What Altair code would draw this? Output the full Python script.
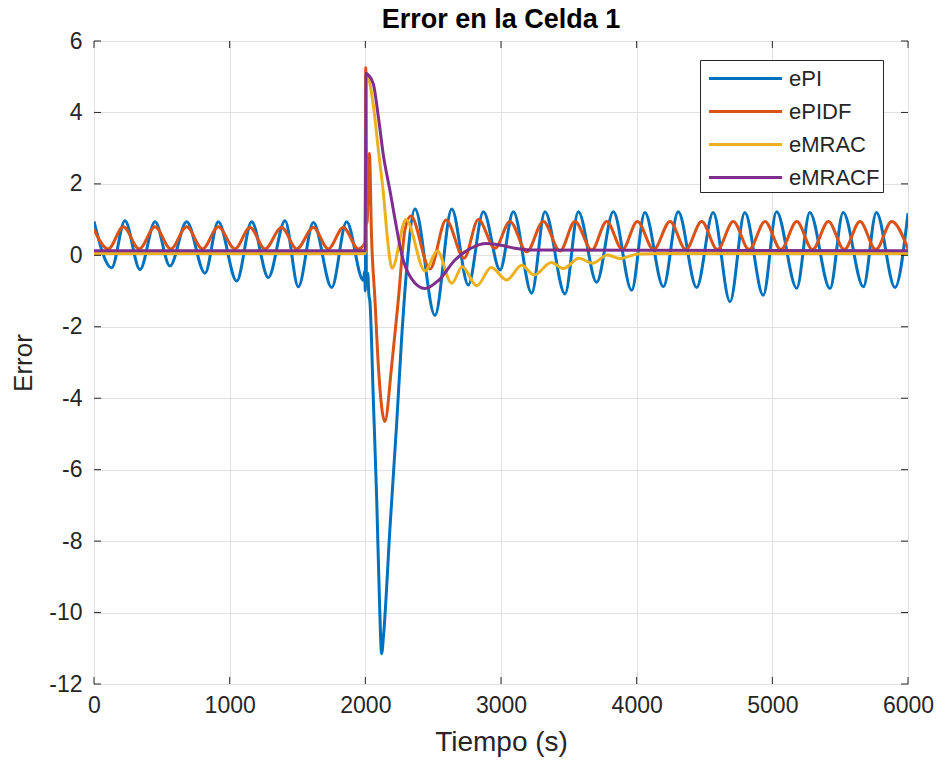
import altair as alt
import pandas as pd

# ---------------- data ----------------
series_names = ["ePI", "ePIDF", "eMRAC", "eMRACF"]
series_colors = ["#0072BD", "#D95319", "#EDB120", "#7E2F8E"]

t_pi = [0, 130, 228, 339, 450, 560, 683, 818, 916, 1052, 1162, 1285, 1408, 1506, 1617,
        1752, 1862, 1985, 1995, 2000, 2004, 2008, 2018, 2026, 2034, 2059, 2084, 2103,
        2120, 2135, 2182, 2231, 2268, 2300, 2366, 2513, 2637, 2759, 2870, 2993, 3091,
        3226, 3324, 3472, 3570, 3705, 3828, 3963, 4060, 4197, 4306, 4442, 4564, 4688,
        4797, 4933, 5031, 5180, 5276, 5425, 5522, 5671, 5767, 5904, 6000]
v_pi = [0.95, -0.35, 0.97, -0.4, 0.94, -0.3, 0.94, -0.5, 0.94, -0.72, 0.94, -0.62, 0.97,
        -0.88, 0.92, -0.9, 0.94, -0.7, -0.45, -1.0, 2.1, -0.7, -0.5, -1.1, -1.3, -4.05,
        -6.85, -9.5, -11.15, -10.6, -7.6, -4.7, -2.3, -0.6, 1.3, -1.68, 1.3, -0.83, 1.22,
        -0.41, 1.22, -1.06, 1.22, -1.08, 1.22, -0.75, 1.22, -0.98, 1.2, -0.88, 1.22, -0.9,
        1.2, -1.3, 1.2, -1.12, 1.22, -0.92, 1.2, -0.93, 1.2, -0.88, 1.2, -0.9, 1.18]

t_pidf = [0, 105, 216, 333, 450, 566, 683, 800, 916, 1039, 1150, 1260, 1383, 1494, 1617,
          1727, 1838, 1948, 1998, 2003, 2012, 2030, 2046, 2071, 2096, 2144, 2194, 2243,
          2292, 2335, 2477, 2595, 2728, 2833, 2956, 3066, 3190, 3312, 3435, 3545, 3669,
          3779, 3895, 4005, 4125, 4246, 4362, 4479, 4595, 4712, 4829, 4946, 5063, 5180,
          5296, 5413, 5530, 5646, 5763, 5880, 6000]
v_pidf = [0.72, 0.18, 0.8, 0.18, 0.8, 0.18, 0.8, 0.18, 0.8, 0.18, 0.78, 0.18, 0.78, 0.18,
          0.78, 0.18, 0.78, 0.18, 0.35, 5.25, 0.9, 2.85, 0.5, -1.25, -3.1, -4.65, -3.1,
          -1.25, 0.71, 1.1, -0.38, 0.99, -0.08, 1.0, 0.2, 0.95, 0.1, 0.95, 0.12, 0.95,
          0.15, 0.95, 0.16, 0.95, 0.16, 0.95, 0.16, 0.95, 0.16, 0.95, 0.16, 0.95, 0.16,
          0.95, 0.16, 0.95, 0.16, 0.95, 0.16, 0.95, 0.18]

t_mrac = [0, 1999, 2004, 2025, 2059, 2096, 2133, 2165, 2197, 2300, 2440, 2530, 2637, 2715,
          2821, 2928, 3042, 3153, 3245, 3370, 3460, 3575, 3675, 3785, 3880, 4010, 4150, 6000]
v_mrac = [0.05, 0.05, 5.1, 4.95, 4.2, 2.95, 1.74, 0.4, -0.36, 1.0, -0.44, 0.12, -0.78,
          -0.32, -0.85, -0.34, -0.69, -0.28, -0.55, -0.2, -0.37, -0.08, -0.22, 0.01, -0.09,
          0.04, 0.05, 0.05]

t_mracf = [0, 1999, 2005, 2022, 2059, 2096, 2133, 2182, 2231, 2270, 2340, 2440, 2540, 2661,
           2780, 2890, 3000, 3100, 3214, 6000]
v_mracf = [0.13, 0.13, 5.1, 5.05, 4.8, 3.88, 2.8, 1.8, 0.75, 0.0, -0.65, -0.93, -0.7,
           -0.13, 0.2, 0.33, 0.28, 0.2, 0.15, 0.13]

x_ticks = [0, 1000, 2000, 3000, 4000, 5000, 6000]
y_ticks = [-12, -10, -8, -6, -4, -2, 0, 2, 4, 6]

# ---------------- build table ----------------
rows = []
for name, ts, vs in zip(series_names, [t_pi, t_pidf, t_mrac, t_mracf],
                        [v_pi, v_pidf, v_mrac, v_mracf]):
    for t, v in zip(ts, vs):
        rows.append({"t": t, "e": v, "serie": name})
df = pd.DataFrame(rows)

FONT = "Liberation Sans"
W, H = 814, 643
AX = "#262626"

xscale = alt.Scale(domain=[0, 6000], nice=False, zero=False)
yscale = alt.Scale(domain=[-12, 6], nice=False, zero=False)

x_enc = alt.X("t:Q", scale=xscale,
              axis=alt.Axis(values=x_ticks, format="d", title="Tiempo (s)",
                            titleY=58, titleBaseline="middle", labelPadding=10,
                            titleFontSize=28))
y_enc = alt.Y("e:Q", scale=yscale,
              axis=alt.Axis(values=y_ticks, title="Error",
                            labelExpr="replace(datum.label, '\u2212', '-')",
                            titleX=-58, titleY=H / 2, labelPadding=12,
                            titleFontSize=26))

color_enc = alt.Color(
    "serie:N",
    scale=alt.Scale(domain=series_names, range=series_colors),
    legend=alt.Legend(
        title=None, orient="none", legendX=606, legendY=19, direction="vertical",
        symbolType="M-0.68,0H4.54", symbolSize=784, symbolStrokeWidth=3,
        labelFont=FONT, labelFontSize=22, labelColor=AX, labelOffset=55,
        labelExpr="datum.label + '\u00a0\u00a0\u00a0\u00a0\u00a0'",
        padding=3, rowPadding=6, strokeColor=AX, fillColor="white", cornerRadius=0,
    ),
)

layers = []
for name in series_names:
    layers.append(
        alt.Chart(df).transform_filter(alt.datum.serie == name)
        .mark_line(strokeWidth=3, interpolate="monotone", clip=True)
        .encode(x=x_enc, y=y_enc, color=color_enc)
    )

xt = pd.DataFrame({"t": x_ticks})
yt = pd.DataFrame({"e": y_ticks})
tick_bottom = alt.Chart(xt).mark_rule(color=AX, strokeWidth=1).encode(
    x=x_enc, y=alt.value(H), y2=alt.value(H - 7))
tick_top = alt.Chart(xt).mark_rule(color=AX, strokeWidth=1).encode(
    x=x_enc, y=alt.value(0), y2=alt.value(7))
tick_left = alt.Chart(yt).mark_rule(color=AX, strokeWidth=1).encode(
    y=y_enc, x=alt.value(0), x2=alt.value(7))
tick_right = alt.Chart(yt).mark_rule(color=AX, strokeWidth=1).encode(
    y=y_enc, x=alt.value(W), x2=alt.value(W - 7))

chart = (
    alt.layer(*layers, tick_bottom, tick_top, tick_left, tick_right)
    .properties(
        width=W, height=H,
        title=alt.TitleParams("Error en la Celda 1", font=FONT, fontSize=27,
                              fontWeight="bold", color="#000000", anchor="middle",
                              frame="group", offset=8, dy=12),
        autosize=alt.AutoSizeParams(type="none"),
        padding={"left": 94, "top": 41, "right": 33, "bottom": 82},
        background="white",
    )
    .configure_view(stroke=AX, strokeWidth=1)
    .configure_axis(
        grid=True, gridColor="#e1e1e1", gridWidth=1, domain=False, ticks=False,
        tickSize=0, labelFont=FONT, labelFontSize=23, labelColor=AX,
        labelFlush=False, labelOverlap=False, labelBound=False,
        titleFont=FONT, titleFontWeight="normal", titleColor=AX,
    )
)

chart.save("out.html", embed_options={"renderer": "svg", "actions": False})
